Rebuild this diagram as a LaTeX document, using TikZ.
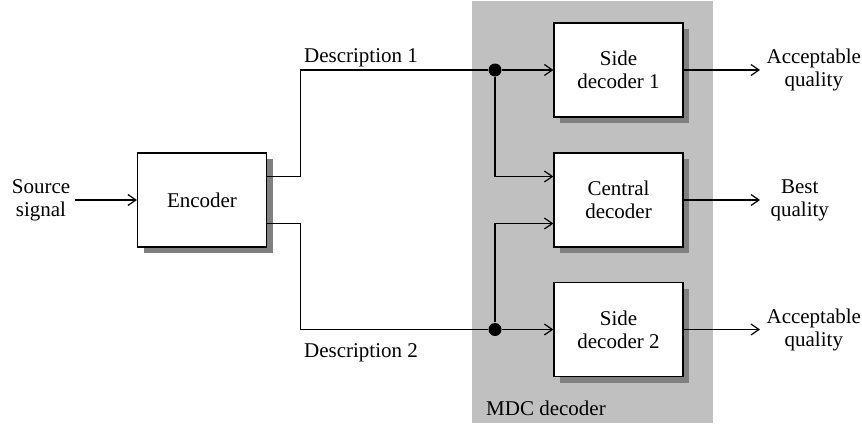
\documentclass[tikz,border=0pt]{standalone}
\usepackage{fontspec}
\setmainfont{Liberation Serif}
\usetikzlibrary{shadows,arrows.meta}
\definecolor{mdcgray}{RGB}{192,192,192}
\definecolor{shadowgray}{RGB}{128,128,128}

\begin{document}
\begin{tikzpicture}[x=0.5pt,y=-0.5pt,
    font=\fontsize{10.5}{11.5}\selectfont,
    >={Straight Barb[length=4pt,width=5.5pt]}, line width=0.6pt,
    block/.style={draw, fill=white, minimum width=64.5pt, minimum height=47pt, align=center,
        drop shadow={shadow xshift=3pt, shadow yshift=-3pt, fill=shadowgray, opacity=1}},
    junc/.style={circle, fill, inner sep=0pt, minimum size=6.5pt},
    txt/.style={align=center, inner sep=2pt}]
    \useasboundingbox (0,0) rectangle (862,423);
    % decoder side
    \fill[mdcgray] (472,1) rectangle (713,423);
    \node at (546,408) {MDC decoder};

    \node[txt] (src) at (41,200) {Source\\signal};
    \node[block] (enc) at (202,200) {Encoder};
    \node[block] (sd1) at (618.5,70) {Side\\decoder 1};
    \node[block] (cd) at (618.5,200) {Central\\decoder};
    \node[block] (sd2) at (618.5,329.5) {Side\\decoder 2};
    \node[junc] (dot1) at (495,70) {};
    \node[junc] (dot2) at (495,329.5) {};

    \draw[->] (src) -- (enc);
    \draw ([yshift=11.75pt]enc.east) -- ++(33,0) |- (dot1);
    \draw ([yshift=-11.75pt]enc.east) -- ++(33,0) |- (dot2);
    \node at (361,58) {Description 1};
    \node at (361,353) {Description 2};

    \draw[->] (dot1) -- (sd1.west);
    \draw[->] (dot1) |- ([yshift=11.75pt]cd.west);
    \draw[->] (dot2) |- ([yshift=-11.75pt]cd.west);
    \draw[->] (dot2) -- (sd2.west);

    % outputs
    \node[txt, anchor=west] (q1) at (762,70) {Acceptable\\quality};
    \node[txt, anchor=west] (q2) at (766,200) {Best\\quality};
    \node[txt, anchor=west] (q3) at (762,329.5) {Acceptable\\quality};
    \draw[->] (sd1.east) -- (sd1.east -| 760,0);
    \draw[->] (cd.east) -- (cd.east -| 760,0);
    \draw[->] (sd2.east) -- (sd2.east -| 760,0);
\end{tikzpicture}
\end{document}
